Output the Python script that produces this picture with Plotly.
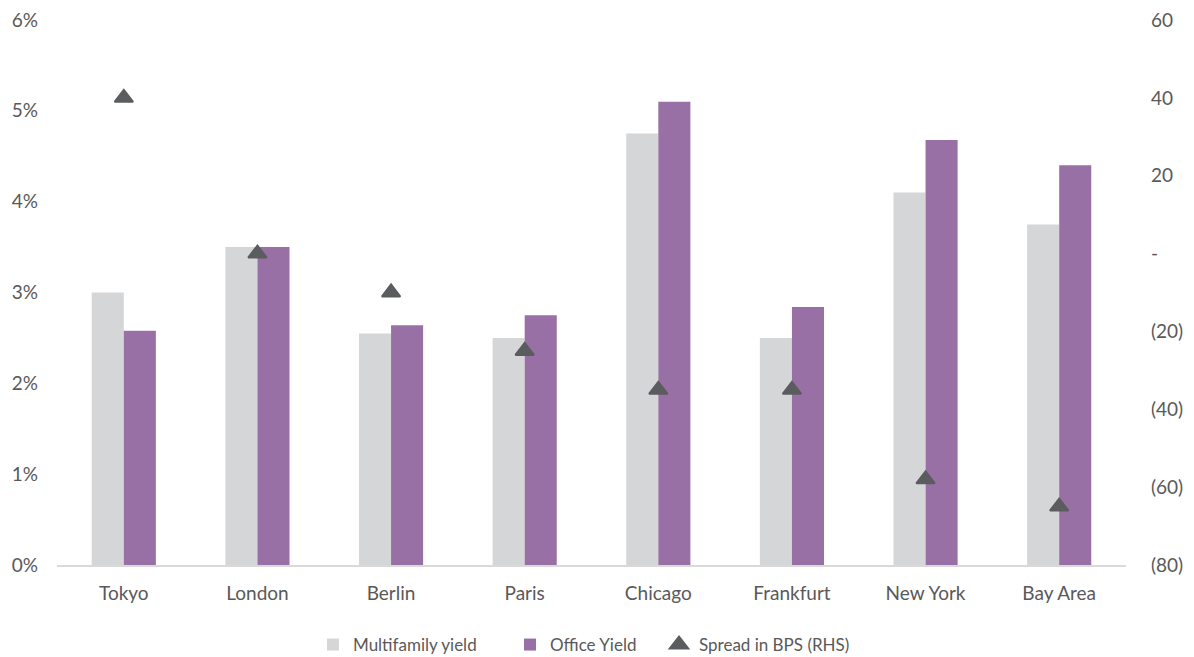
import plotly.graph_objects as go

# City-level yields (%) and the multifamily-minus-office spread (bps)
cities = ["Tokyo", "London", "Berlin", "Paris", "Chicago", "Frankfurt", "New York", "Bay Area"]
multifamily_yield = [3.0, 3.5, 2.55, 2.5, 4.75, 2.5, 4.1, 3.75]
office_yield = [2.58, 3.5, 2.64, 2.75, 5.1, 2.84, 4.68, 4.4]
spread_bps = [40, 0, -10, -25, -35, -35, -58, -65]

left_ticks = [0, 1, 2, 3, 4, 5, 6]
left_labels = ["0%", "1%", "2%", "3%", "4%", "5%", "6%"]
right_ticks = [-80, -60, -40, -20, 0, 20, 40, 60]
right_labels = ["(80)", "(60)", "(40)", "(20)", "-", "20", "40", "60"]

text_color = "#595959"
font_family = "Lato, 'Noto Sans', sans-serif"

fig = go.Figure()
fig.add_trace(go.Bar(
    x=cities, y=multifamily_yield, name="Multifamily yield", legend="legend",
    marker=dict(color="#d5d6d8", line=dict(width=0)),
))
fig.add_trace(go.Bar(
    x=cities, y=office_yield, name="Office Yield", legend="legend2",
    marker=dict(color="#9970a6", line=dict(width=0)),
))
fig.add_trace(go.Scatter(
    x=cities, y=spread_bps, name="Spread in BPS (RHS)", yaxis="y2", legend="legend3",
    mode="markers",
    marker=dict(symbol="triangle-up", size=16, color="#5b5c5f",
                line=dict(color="#5b5c5f", width=2)),
))

# one legend box per series so each entry can sit at its own spot along the bottom
legend_style = dict(orientation="h", xref="container", yref="container",
                    y=12 / 657, yanchor="middle", xanchor="left",
                    font=dict(size=17, color=text_color), itemwidth=30,
                    bgcolor="rgba(0,0,0,0)")

fig.update_layout(
    width=1194, height=657,
    margin=dict(l=57, r=68, t=20, b=92, autoexpand=False),
    paper_bgcolor="white", plot_bgcolor="white",
    font=dict(family=font_family, color=text_color, size=18),
    barmode="group", bargap=0.52, bargroupgap=0,
    showlegend=True,
    legend=dict(legend_style, x=313 / 1194),
    legend2=dict(legend_style, x=510 / 1194),
    legend3=dict(legend_style, x=659 / 1194),
    xaxis=dict(showgrid=False, showline=True, linecolor="#d9d9d9", linewidth=2,
               ticks="", tickfont=dict(size=19), ticklabelstandoff=10),
    yaxis=dict(range=[0, 6], tickvals=left_ticks, ticktext=left_labels,
               showgrid=False, zeroline=False, showline=False, ticks="",
               tickfont=dict(size=19), ticklabelstandoff=18),
    yaxis2=dict(range=[-80, 60], tickvals=right_ticks, ticktext=right_labels,
                overlaying="y", side="right", showgrid=False, zeroline=False,
                showline=False, ticks="", tickfont=dict(size=19), ticklabelstandoff=24),
)

fig.write_html("out.html")
